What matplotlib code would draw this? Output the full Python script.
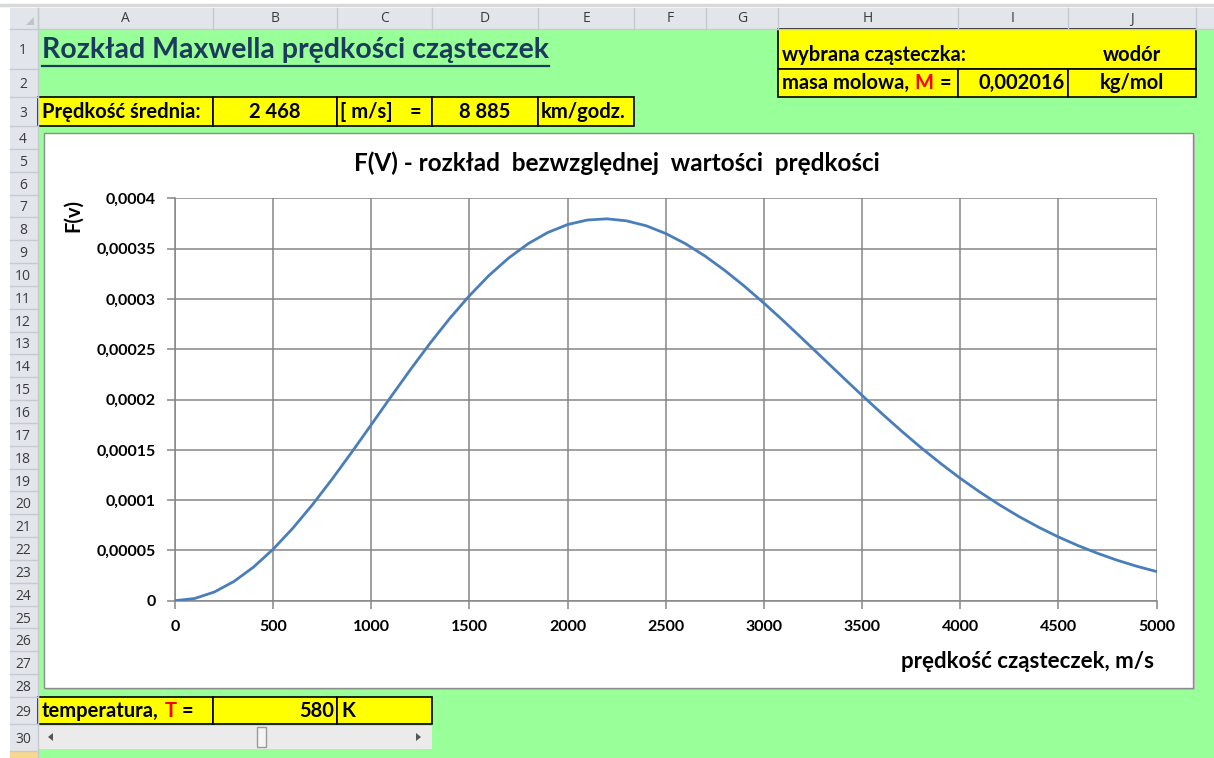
import matplotlib.pyplot as plt
from matplotlib.patches import Rectangle, Polygon

plt.rcParams['font.family'] = ['Lato', 'DejaVu Sans']

# chart data (m/s, F(v) in 1e-6)
speed = [0, 100, 200, 300, 400, 500, 600, 700, 800, 900,
         1000, 1100, 1200, 1300, 1400, 1500, 1600, 1700, 1800, 1900,
         2000, 2100, 2200, 2300, 2400, 2500, 2600, 2700, 2800, 2900,
         3000, 3100, 3200, 3300, 3400, 3500, 3600, 3700, 3800, 3900,
         4000, 4100, 4200, 4300, 4400, 4500, 4600, 4700, 4800, 4900, 5000]
fv_micro = [0, 2.2, 8.6, 19.1, 33.4, 51.2, 72.0, 95.4, 120.8, 147.5,
            175.0, 202.7, 229.9, 256.1, 280.7, 303.2, 323.4, 340.7, 355.0, 366.1,
            373.9, 378.4, 379.6, 377.6, 372.7, 365.0, 354.9, 342.6, 328.4, 312.7,
            295.8, 278.1, 259.7, 241.1, 222.5, 204.1, 186.2, 168.8, 152.2, 136.5,
            121.7, 108.0, 95.3, 83.6, 73.0, 63.4, 54.8, 47.1, 40.2, 34.2, 29.0]
fv = [v * 1e-6 for v in fv_micro]

x_ticks = [0, 500, 1000, 1500, 2000, 2500, 3000, 3500, 4000, 4500, 5000]
y_ticks = [0, 0.00005, 0.0001, 0.00015, 0.0002, 0.00025, 0.0003, 0.00035, 0.0004]
y_tick_labels = ["0", "0,00005", "0,0001", "0,00015", "0,0002",
                 "0,00025", "0,0003", "0,00035", "0,0004"]

# sheet cell values
mean_speed = "2 468"
mean_kmh = "8 885"
particle = "wodór"
molar_mass = "0,002016"
temperature = "580"

# sheet layout (pixels)
W, H = 1214, 758
col_names = ["A", "B", "C", "D", "E", "F", "G", "H", "I", "J", ""]
col_edges = [38, 213, 337, 432, 538, 634, 706, 778, 958, 1068, 1196, 1240]
row_edges = [29, 69, 97, 126] + [126 + 22.84 * i for i in range(1, 26)] + [724, 751, 778]

green = "#99FF99"
yellow = "#FFFF00"
head_bg = "#E2E6EB"
head_line = "#C5CAD0"
head_txt = "#3A3A3A"

fig = plt.figure(figsize=(W / 100, H / 100), dpi=100)
bg = fig.add_axes([0, 0, 1, 1])
bg.set_xlim(0, W)
bg.set_ylim(H, 0)
bg.axis("off")

# top strip and green sheet area
bg.add_patch(Rectangle((0, 0), W, H, facecolor="white", edgecolor="none"))
bg.plot([0, W], [5, 5], color="#D8D8D8", lw=2.5)
bg.add_patch(Rectangle((38, 29), W - 38, H - 29, facecolor=green, edgecolor="none"))

# column headers
bg.add_patch(Rectangle((10, 8), W - 10, 21, facecolor=head_bg, edgecolor="none"))
bg.plot([10, W], [29, 29], color=head_line, lw=1)
for i, name in enumerate(col_names):
    x0, x1 = col_edges[i], col_edges[i + 1]
    bg.plot([x0, x0], [8, 29], color=head_line, lw=1)
    if name:
        bg.text((x0 + x1) / 2, 19, name, ha="center", va="center",
                fontsize=10, color=head_txt, family=["Open Sans", "DejaVu Sans"])
bg.add_patch(Polygon([[34, 25], [26, 25], [34, 17]], closed=True,
                     facecolor="#C0C4CA", edgecolor="none"))

# row headers
bg.add_patch(Rectangle((10, 29), 28, H - 29, facecolor=head_bg, edgecolor="none"))
bg.plot([38, 38], [8, H], color=head_line, lw=1)
for r in range(len(row_edges) - 1):
    y0, y1 = row_edges[r], row_edges[r + 1]
    if r == 30:
        bg.add_patch(Rectangle((10, y0), 28, y1 - y0, facecolor="#F8D88C", edgecolor="none"))
        continue
    bg.plot([10, 38], [y1, y1], color=head_line, lw=1)
    bg.text(23, (y0 + y1) / 2 + 2, str(r + 1), ha="center", va="center",
            fontsize=10, color=head_txt, family=["Open Sans", "DejaVu Sans"])


def cell(x0, x1, y0, y1):
    bg.add_patch(Rectangle((x0, y0), x1 - x0, y1 - y0, facecolor=yellow,
                           edgecolor="black", lw=1.2))


fs = 14.5
# row 3
for i in range(5):
    cell(col_edges[i], col_edges[i + 1], row_edges[2], row_edges[3])
ym = (row_edges[2] + row_edges[3]) / 2
bg.text(42, ym, "Prędkość średnia:", ha="left", va="center", fontsize=fs, weight="bold")
bg.text(275, ym, mean_speed, ha="center", va="center", fontsize=fs, weight="bold")
bg.text(340, ym, "[ m/s]", ha="left", va="center", fontsize=fs, weight="bold")
bg.text(415, ym, "=", ha="center", va="center", fontsize=fs, weight="bold")
bg.text(485, ym, mean_kmh, ha="center", va="center", fontsize=fs, weight="bold")
bg.text(541, ym, "km/godz.", ha="left", va="center", fontsize=fs, weight="bold")

# H1:J2 block
cell(778, 1196, 29, 69)
for i in range(7, 10):
    cell(col_edges[i], col_edges[i + 1], 69, 97)
bg.text(782, 55, "wybrana cząsteczka:", ha="left", va="center", fontsize=fs, weight="bold")
bg.text(1132, 55, particle, ha="center", va="center", fontsize=fs, weight="bold")
t = bg.text(782, 83, "masa molowa,", ha="left", va="center", fontsize=fs, weight="bold")
t = bg.annotate("M", xy=(1, 0.5), xycoords=t, xytext=(4, 0), textcoords="offset points",
                ha="left", va="center", fontsize=fs, weight="bold", color="red")
bg.annotate("=", xy=(1, 0.5), xycoords=t, xytext=(4, 0), textcoords="offset points",
            ha="left", va="center", fontsize=fs, weight="bold")
bg.text(1065, 83, molar_mass, ha="right", va="center", fontsize=fs, weight="bold")
bg.text(1132, 83, "kg/mol", ha="center", va="center", fontsize=fs, weight="bold")

# row 29
for i in range(3):
    cell(col_edges[i], col_edges[i + 1], 697, 724)
t = bg.text(42, 711, "temperatura,", ha="left", va="center", fontsize=fs, weight="bold")
t = bg.annotate("T", xy=(1, 0.5), xycoords=t, xytext=(4, 0), textcoords="offset points",
                ha="left", va="center", fontsize=fs, weight="bold", color="red")
bg.annotate("=", xy=(1, 0.5), xycoords=t, xytext=(4, 0), textcoords="offset points",
            ha="left", va="center", fontsize=fs, weight="bold")
bg.text(334, 711, temperature, ha="right", va="center", fontsize=fs, weight="bold")
bg.text(341, 711, "K", ha="left", va="center", fontsize=fs, weight="bold")

# scrollbar in row 30
bg.add_patch(Rectangle((38, 726), 394, 23, facecolor="#EBEBEB", edgecolor="none"))
bg.add_patch(Polygon([[48, 737], [53, 733], [53, 741]], closed=True, facecolor="#555555"))
bg.add_patch(Polygon([[421, 737], [416, 733], [416, 741]], closed=True, facecolor="#555555"))
bg.add_patch(Rectangle((257, 727), 9, 20, facecolor="#F4F4F4", edgecolor="#9A9A9A", lw=1))

# heading
ht = bg.text(42, 50, "Rozkład Maxwella prędkości cząsteczek", ha="left", va="center",
             fontsize=20.5, weight="bold", color="#1B3A5C")
fig.canvas.draw()
bb = ht.get_window_extent().transformed(bg.transData.inverted())
bg.plot([bb.x0, bb.x1], [66, 66], color="#1B3A5C", lw=1.6)

# chart frame
bg.add_patch(Rectangle((46, 135), 1149, 555, facecolor="#BDBDBD", edgecolor="none"))
bg.add_patch(Rectangle((44, 133), 1149, 555, facecolor="white", edgecolor="#8C8C8C", lw=1))
bg.text(617, 163, "F(V) - rozkład  bezwzględnej  wartości  prędkości", ha="center",
        va="center", fontsize=17.5, weight="bold")
bg.text(73, 216, "F(v)", ha="center", va="center", rotation=90, fontsize=14.5, weight="bold")
bg.text(1154, 662, "prędkość cząsteczek, m/s", ha="right", va="center",
        fontsize=16, weight="bold")

# plot area
x0p, x1p, y0p, y1p = 175, 1156.5, 600.7, 198.3
ax = fig.add_axes([x0p / W, (H - y0p) / H, (x1p - x0p) / W, (y0p - y1p) / H])
ax.patch.set_alpha(0)
ax.plot(speed, fv, color="#4A7EBB", lw=2.0, zorder=3)
ax.set_xlim(0, 5000)
ax.set_ylim(0, 0.0004)
ax.set_xticks(x_ticks)
ax.set_yticks(y_ticks)
ax.set_yticklabels(y_tick_labels)
ax.grid(True, color="#868686", lw=1.1)
for s in ["top", "right"]:
    ax.spines[s].set_visible(False)
for s in ["left", "bottom"]:
    ax.spines[s].set_color("#868686")
    ax.spines[s].set_linewidth(1.1)
ax.tick_params(length=6, width=1.1, color="#868686", labelsize=11.5, pad=8)
for lab in ax.get_xticklabels() + ax.get_yticklabels():
    lab.set_fontweight("bold")

fig.savefig("out.png", dpi=100)
